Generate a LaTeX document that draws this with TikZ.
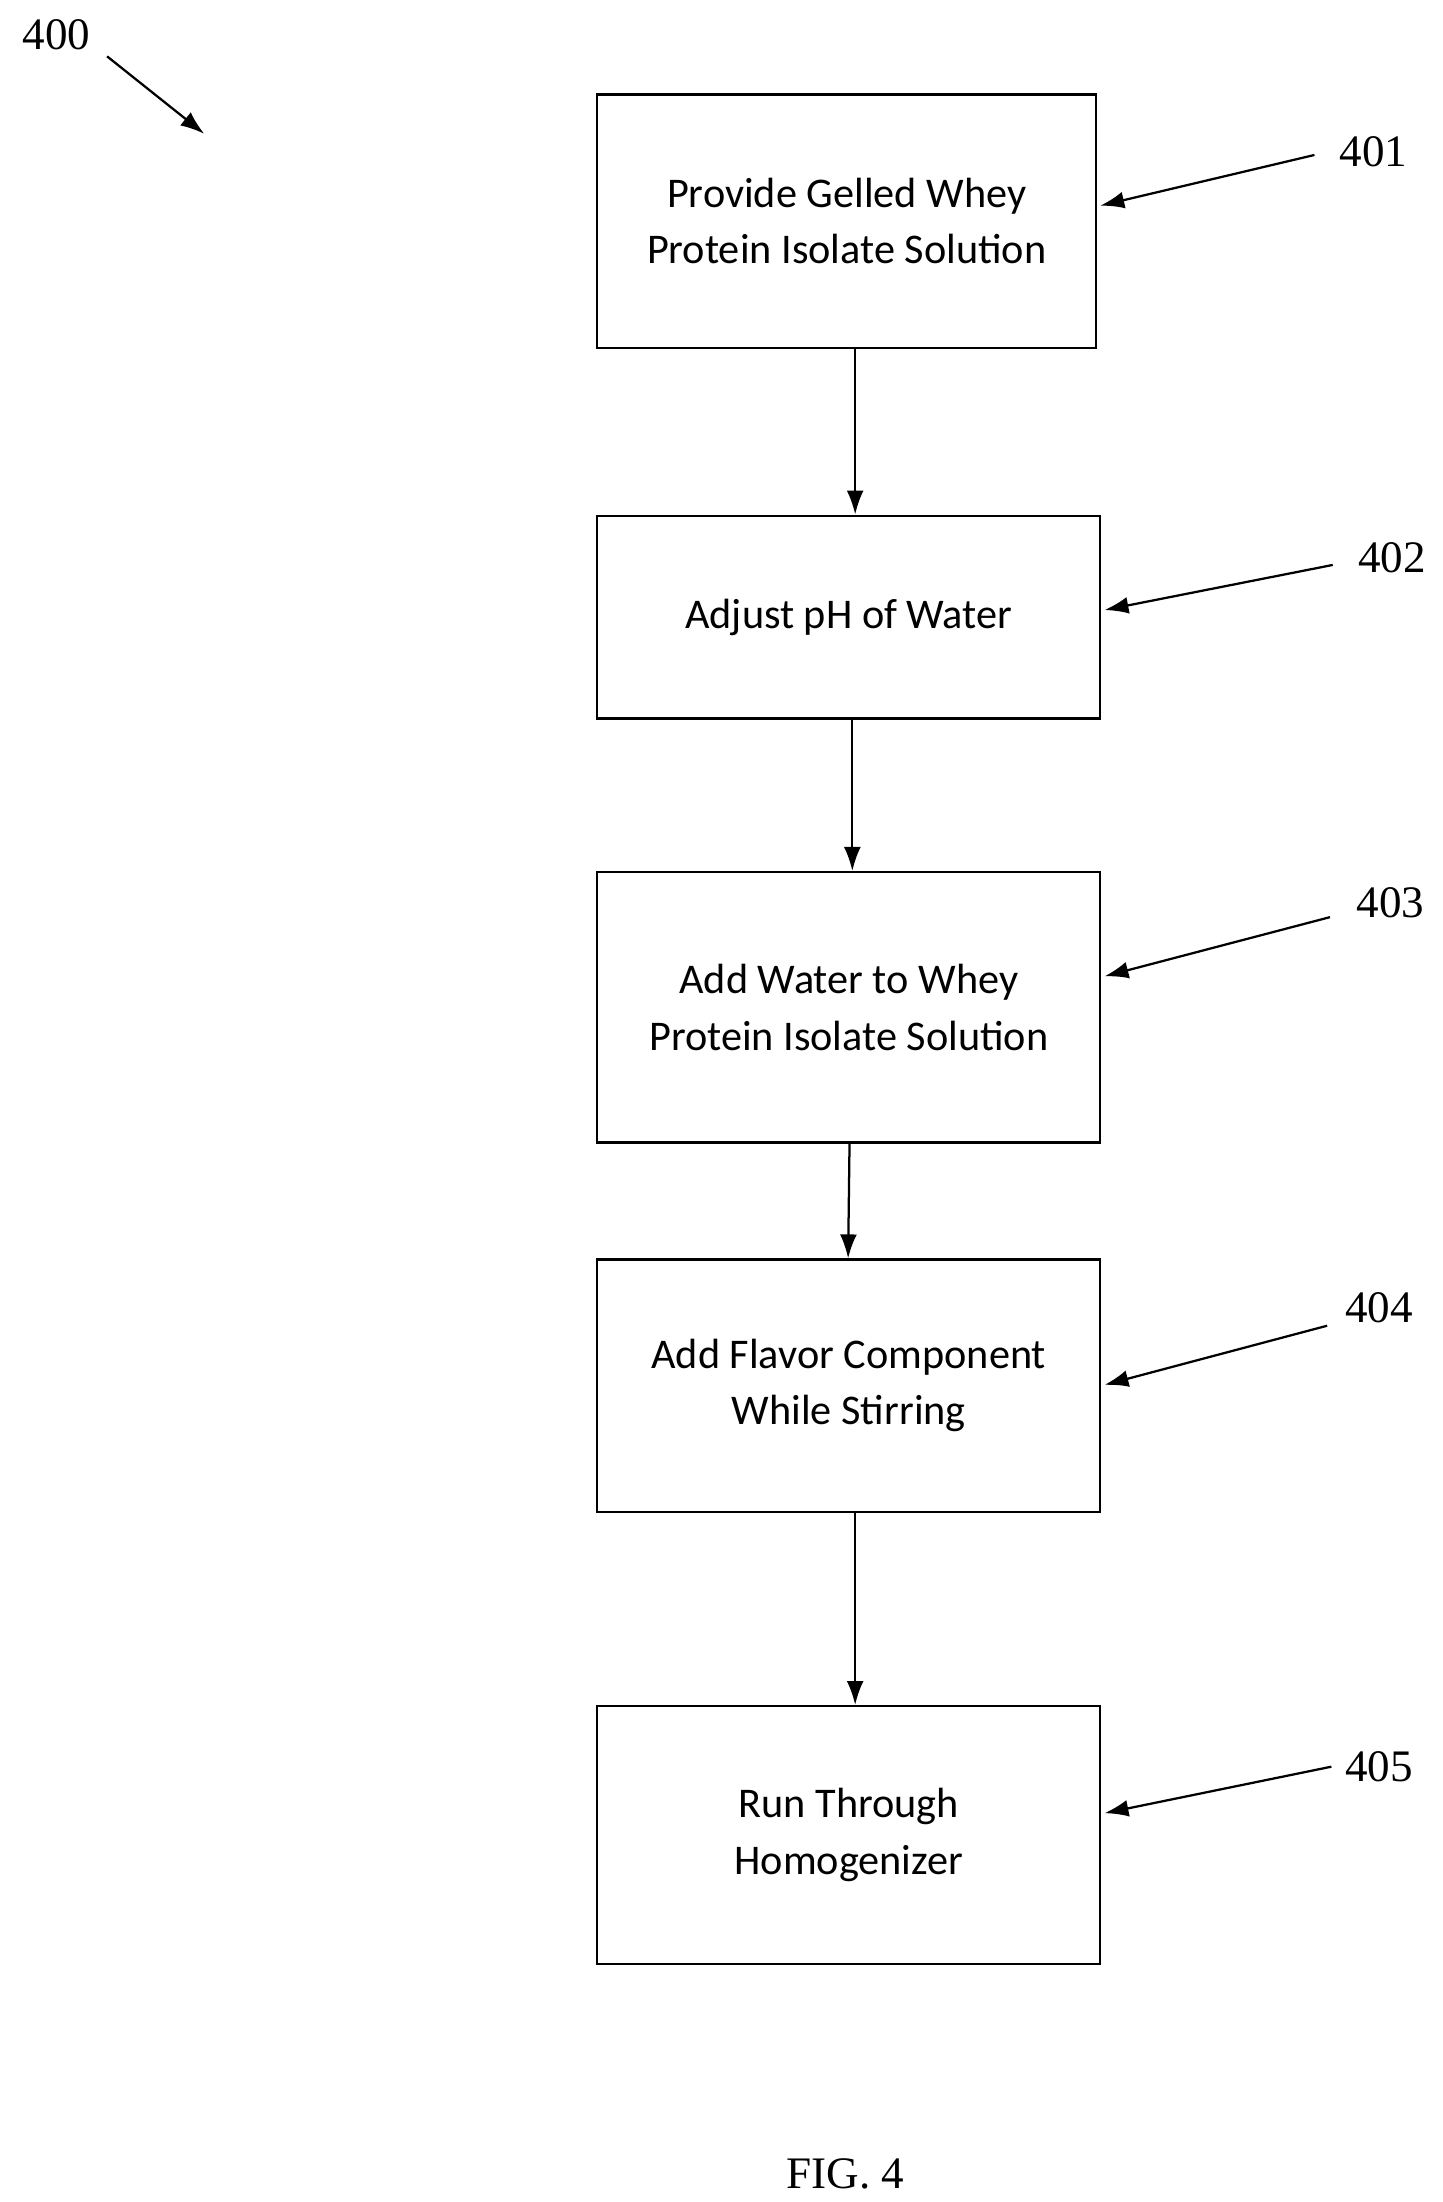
\documentclass[tikz,border=0pt]{standalone}
\usepackage{fontspec}
\setmainfont{Liberation Serif}
\newfontfamily\boxfont{Carlito}
\usetikzlibrary{positioning, arrows.meta}

\begin{document}
\begin{tikzpicture}[x=1pt,y=-1pt,
        stage/.style={draw=black, line width=1.6pt, align=center,
            font=\boxfont\fontsize{30}{40}\selectfont},
        flow/.style={-{Latex[length=17pt,width=12pt]}, line width=1.6pt},
        refnum/.style={font=\fontsize{32}{36}\selectfont},
    ]
        \useasboundingbox (0,0) rectangle (1024,1563);

        % steps
        \node[stage, minimum width=354pt, minimum height=180pt] (s1) at (601,157) {Provide Gelled Whey\\Protein Isolate Solution};
        \node[stage, minimum width=357pt, minimum height=144pt] (s2) at (602.5,438) {Adjust pH of Water};
        \node[stage, minimum width=357pt, minimum height=192pt] (s3) at (602.5,715) {Add Water to Whey\\Protein Isolate Solution};
        \node[stage, minimum width=357pt, minimum height=179pt] (s4) at (602.5,983.5) {Add Flavor Component\\While Stirring};
        \node[stage, minimum width=357pt, minimum height=183pt] (s5) at (602.5,1302.5) {Run Through\\Homogenizer};

        % flow arrows
        \draw[flow] (s1.south -| 607,0) -- (s2.north -| 607,0);
        \draw[flow] (s2.south -| 605,0) -- (s3.north -| 605,0);
        \draw[flow] (s3.south -| 603,0) -- (s4.north -| 602,0);
        \draw[flow] (s4.south -| 607,0) -- (s5.north -| 607,0);

        % reference numerals
        \foreach \name/\lx/\ly/\ax/\ay/\tx/\ty in {401/975/108/933/110/781/146,
                402/988/396/946/401/784/433,
                403/987/641/944/651/784/693,
                404/979/928/942/941/784/983,
                405/979/1254/945/1254/784/1287}
        {
            \node[refnum] (n\name) at (\lx,\ly) {\name};
            \coordinate (t\name) at (\ax,\ay);
            \draw[flow] (t\name) -- (\tx,\ty);
        }

        \node[refnum] (n400) at (40,25) {400};
        \coordinate (t400) at (76,40);
        \draw[flow] (t400) -- (145,95);

        \node[font=\fontsize{32}{36}\selectfont] (fig) at (600,1543) {FIG. 4};
    \end{tikzpicture}
\end{document}
